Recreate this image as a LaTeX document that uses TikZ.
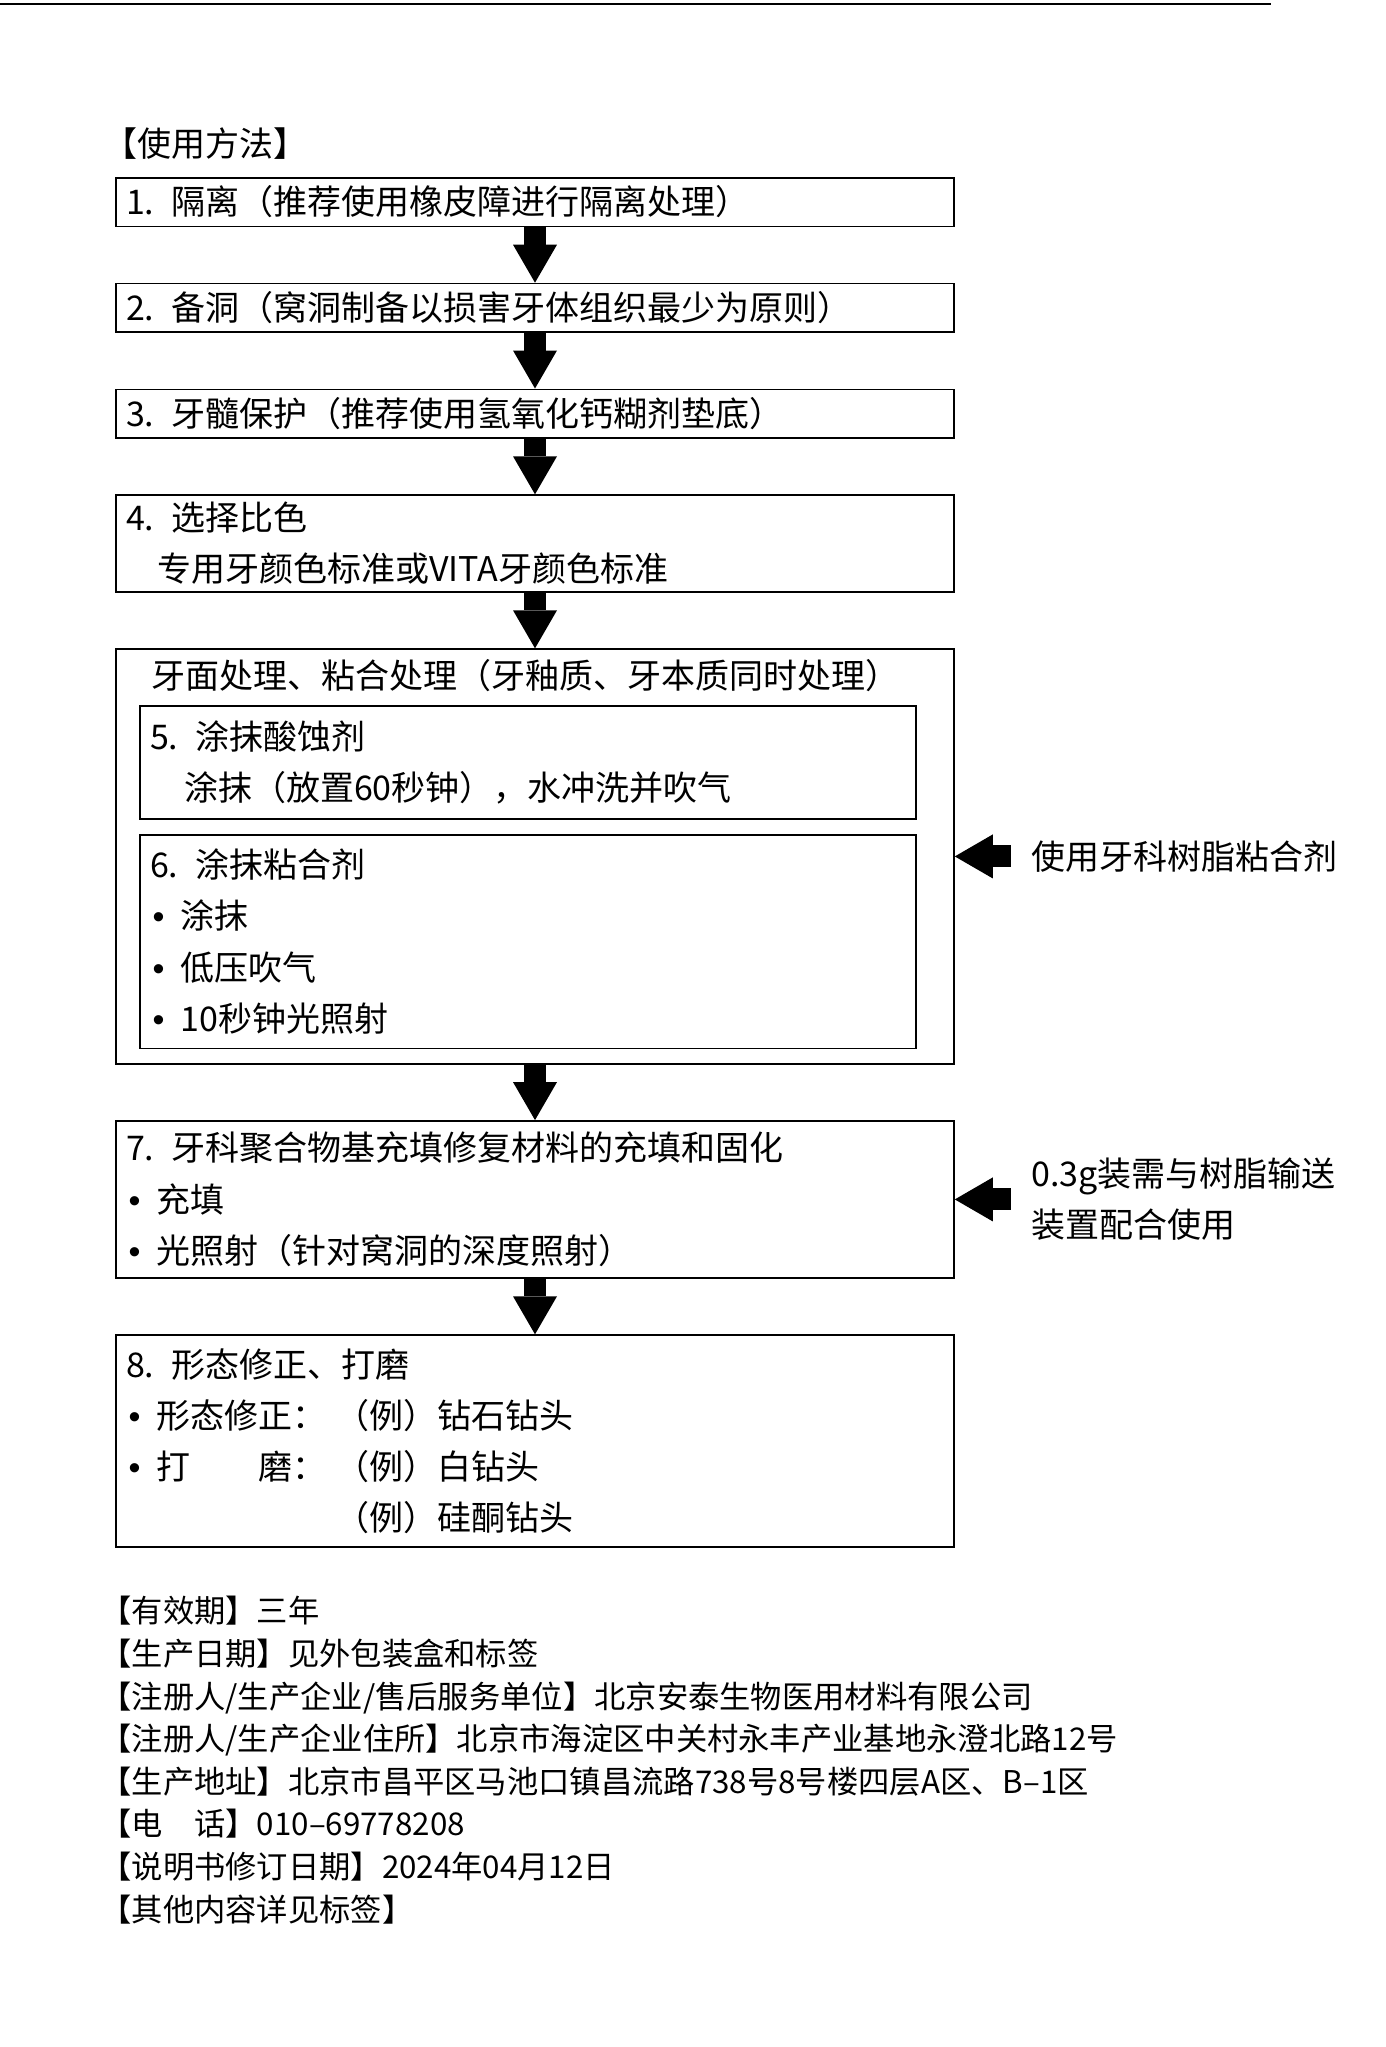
\documentclass[tikz,border=0pt]{standalone}
\usepackage{fontspec}
\setmainfont{Noto Sans CJK SC}
\newfontfamily\bulletfont{Liberation Sans}
\usetikzlibrary{positioning, arrows.meta}

\newcommand\dotitem{\makebox[0.9em][l]{\hspace{0.08em}{\bulletfont •}}}

\begin{document}
\begin{tikzpicture}[
      x=0.5pt, y=-0.5pt,
      every node/.style={font=\fontsize{17pt}{25.6pt}\selectfont},
      stepbox/.style={draw, line width=0.8pt, align=left, inner xsep=5pt, inner ysep=0pt, text width=409pt, minimum width=419pt, minimum height=24.3pt},
      subbox/.style={stepbox, text width=377.9pt, minimum width=387.9pt},
      note/.style={align=left, inner sep=0pt},
      heavy/.style={line width=11pt, -{Triangle[width=22pt, length=19pt, line width=0pt]}}
    ]
    \useasboundingbox (0,0) rectangle (1386,2047);
    \draw[line width=1pt] (0,4) -- (1271,4);

    \node[stepbox]                                              (iso)    at (535,202) {1. 隔离（推荐使用橡皮障进行隔离处理）};
    \node[note, above right=8.6pt and -6pt of iso.north west]   (title)  {【使用方法】};
    \node[stepbox, below=27.8pt of iso]                         (prep)   {2. 备洞（窝洞制备以损害牙体组织最少为原则）};
    \node[stepbox, below=27.8pt of prep]                        (pulp)   {3. 牙髓保护（推荐使用氢氧化钙糊剂垫底）};
    \node[stepbox, below=27.8pt of pulp, minimum height=48.4pt] (shade)  {4. 选择比色\\\hspace*{0.92em}专用牙颜色标准或VITA牙颜色标准};
    \node[stepbox, below=27.8pt of shade, minimum height=207.3pt] (bond) {};
    \node[note, anchor=west] (bondhead) at ([xshift=18pt, yshift=-13.4pt]bond.north west) {牙面处理、粘合处理（牙釉质、牙本质同时处理）};
    \node[subbox, below right=28.3pt and 12pt of bond.north west, minimum height=56.5pt] (etch) {5. 涂抹酸蚀剂\\\hspace*{1em}涂抹（放置60秒钟），水冲洗并吹气};
    \node[subbox, below=7.2pt of etch, minimum height=106.8pt]  (adh)    {6. 涂抹粘合剂\\\dotitem 涂抹\\\dotitem 低压吹气\\\dotitem 10秒钟光照射};
    \node[stepbox, below=27.8pt of bond, minimum height=78.5pt] (fill)   {7. 牙科聚合物基充填修复材料的充填和固化\\\dotitem 充填\\\dotitem 光照射（针对窝洞的深度照射）};
    \node[stepbox, below=27.8pt of fill, minimum height=106pt]  (polish) {8. 形态修正、打磨\\\dotitem 形态修正：\hspace{0.25em}（例）钻石钻头\\\dotitem 打\hspace{2em}磨：\hspace{0.25em}（例）白钻头\\\phantom{\dotitem 形态修正：\hspace{0.25em}}（例）硅酮钻头};

    \node[note, right=38pt of bond] (noteadh)  {使用牙科树脂粘合剂};
    \node[note, right=38pt of fill] (notefill) {0.3g装需与树脂输送\\装置配合使用};

    \draw[heavy] (iso)   -- (prep);
    \draw[heavy] (prep)  -- (pulp);
    \draw[heavy] (pulp)  -- (shade);
    \draw[heavy] (shade) -- (bond);
    \draw[heavy] (bond)  -- (fill);
    \draw[heavy] (fill)  -- (polish);
    \draw[heavy, shorten <=10pt] (noteadh)  -- (bond);
    \draw[heavy, shorten <=10pt] (notefill) -- (fill);

    \node[note, anchor=north west, font=\fontsize{15.65pt}{21.3pt}\selectfont] (info) at (100,1596) {【有效期】三年\\【生产日期】见外包装盒和标签\\【注册人/生产企业/售后服务单位】北京安泰生物医用材料有限公司\\【注册人/生产企业住所】北京市海淀区中关村永丰产业基地永澄北路12号\\【生产地址】北京市昌平区马池口镇昌流路738号8号楼四层A区、B–1区\\【电\hspace{1em}话】010–69778208\\【说明书修订日期】2024年04月12日\\【其他内容详见标签】};
  \end{tikzpicture}
\end{document}
